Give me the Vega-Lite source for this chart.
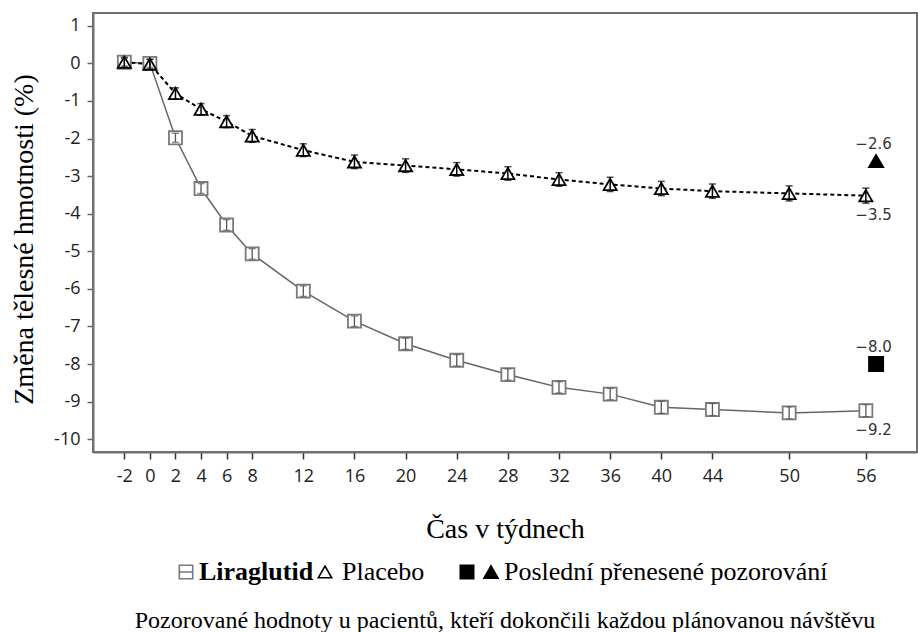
{
  "$schema": "https://vega.github.io/schema/vega-lite/v6.json",
  "width": 824,
  "height": 439,
  "autosize": {"type": "none"},
  "padding": {"left": 93, "top": 13, "right": 1, "bottom": 180},
  "background": "white",
  "config": {
    "view": {"stroke": "#707070", "strokeWidth": 2},
    "legend": {
      "labelFont": "Liberation Serif, Times New Roman, serif",
      "labelFontSize": 26,
      "labelColor": "black",
      "labelLimit": 0,
      "symbolSize": 180,
      "symbolStrokeWidth": 1.6,
      "orient": "none",
      "direction": "horizontal",
      "title": null
    }
  },
  "title": {
    "text": "Pozorované hodnoty u pacientů, kteří dokončili každou plánovanou návštěvu",
    "orient": "bottom",
    "anchor": "middle",
    "font": "Liberation Serif, Times New Roman, serif",
    "fontSize": 24,
    "fontWeight": "normal",
    "color": "black",
    "offset": 24
  },
  "datasets": {
    "obs": [
      {"week": -2, "value": 0.03, "lo": -0.07, "hi": 0.13, "series": "Liraglutid"},
      {"week": 0, "value": 0.0, "lo": -0.1, "hi": 0.1, "series": "Liraglutid"},
      {"week": 2, "value": -1.98, "lo": -2.1, "hi": -1.86, "series": "Liraglutid"},
      {"week": 4, "value": -3.33, "lo": -3.46, "hi": -3.2, "series": "Liraglutid"},
      {"week": 6, "value": -4.3, "lo": -4.44, "hi": -4.16, "series": "Liraglutid"},
      {"week": 8, "value": -5.07, "lo": -5.21, "hi": -4.93, "series": "Liraglutid"},
      {"week": 12, "value": -6.06, "lo": -6.2, "hi": -5.92, "series": "Liraglutid"},
      {"week": 16, "value": -6.86, "lo": -7.0, "hi": -6.72, "series": "Liraglutid"},
      {"week": 20, "value": -7.46, "lo": -7.61, "hi": -7.31, "series": "Liraglutid"},
      {"week": 24, "value": -7.9, "lo": -8.05, "hi": -7.75, "series": "Liraglutid"},
      {"week": 28, "value": -8.28, "lo": -8.43, "hi": -8.13, "series": "Liraglutid"},
      {"week": 32, "value": -8.62, "lo": -8.77, "hi": -8.47, "series": "Liraglutid"},
      {"week": 36, "value": -8.8, "lo": -8.95, "hi": -8.65, "series": "Liraglutid"},
      {"week": 40, "value": -9.15, "lo": -9.31, "hi": -8.99, "series": "Liraglutid"},
      {"week": 44, "value": -9.21, "lo": -9.37, "hi": -9.05, "series": "Liraglutid"},
      {"week": 50, "value": -9.3, "lo": -9.46, "hi": -9.14, "series": "Liraglutid"},
      {"week": 56, "value": -9.24, "lo": -9.4, "hi": -9.08, "series": "Liraglutid"},
      {"week": -2, "value": 0.03, "lo": -0.1, "hi": 0.16, "series": "Placebo"},
      {"week": 0, "value": -0.02, "lo": -0.15, "hi": 0.11, "series": "Placebo"},
      {"week": 2, "value": -0.8, "lo": -0.95, "hi": -0.65, "series": "Placebo"},
      {"week": 4, "value": -1.22, "lo": -1.37, "hi": -1.07, "series": "Placebo"},
      {"week": 6, "value": -1.55, "lo": -1.71, "hi": -1.39, "series": "Placebo"},
      {"week": 8, "value": -1.93, "lo": -2.1, "hi": -1.76, "series": "Placebo"},
      {"week": 12, "value": -2.31, "lo": -2.48, "hi": -2.14, "series": "Placebo"},
      {"week": 16, "value": -2.62, "lo": -2.8, "hi": -2.44, "series": "Placebo"},
      {"week": 20, "value": -2.72, "lo": -2.9, "hi": -2.54, "series": "Placebo"},
      {"week": 24, "value": -2.82, "lo": -3.0, "hi": -2.64, "series": "Placebo"},
      {"week": 28, "value": -2.93, "lo": -3.11, "hi": -2.75, "series": "Placebo"},
      {"week": 32, "value": -3.09, "lo": -3.27, "hi": -2.91, "series": "Placebo"},
      {"week": 36, "value": -3.22, "lo": -3.41, "hi": -3.03, "series": "Placebo"},
      {"week": 40, "value": -3.33, "lo": -3.52, "hi": -3.14, "series": "Placebo"},
      {"week": 44, "value": -3.4, "lo": -3.59, "hi": -3.21, "series": "Placebo"},
      {"week": 50, "value": -3.46, "lo": -3.66, "hi": -3.26, "series": "Placebo"},
      {"week": 56, "value": -3.52, "lo": -3.72, "hi": -3.32, "series": "Placebo"},
      {"week": 56.8, "value": -8.0, "series": "LOCF Liraglutid"},
      {"week": 56.8, "value": -2.6, "series": "LOCF Placebo"}
    ],
    "labels": [
      {"week": 56.6, "value": -2.6, "label": "−2.6", "side": "above"},
      {"week": 56.6, "value": -3.52, "label": "−3.5", "side": "below"},
      {"week": 56.6, "value": -8.0, "label": "−8.0", "side": "above"},
      {"week": 56.6, "value": -9.24, "label": "−9.2", "side": "below"}
    ]
  },
  "encoding": {
    "x": {
      "field": "week",
      "type": "quantitative",
      "scale": {"domain": [-4.45, 60], "nice": false, "zero": false},
      "axis": {
        "values": [-2, 0, 2, 4, 6, 8, 12, 16, 20, 24, 28, 32, 36, 40, 44, 50, 56],
        "labelExpr": "'' + datum.value",
        "grid": false,
        "domainColor": "#707070",
        "domainWidth": 2,
        "tickColor": "#333333",
        "tickWidth": 1.5,
        "tickSize": 7,
        "labelPadding": 8,
        "labelFont": "Open Sans",
        "labelFontSize": 18,
        "labelColor": "#222222",
        "title": "Čas v týdnech",
        "titleFont": "Liberation Serif, Times New Roman, serif",
        "titleFontSize": 28,
        "titleFontWeight": "normal",
        "titleColor": "black",
        "titleBaseline": "alphabetic",
        "titleY": 85
      }
    },
    "y": {
      "field": "value",
      "type": "quantitative",
      "title": "Změna tělesné hmotnosti (%)",
      "scale": {"domain": [-10.34, 1.34], "nice": false, "zero": false},
      "axis": {
        "values": [-10, -9, -8, -7, -6, -5, -4, -3, -2, -1, 0, 1],
        "labelExpr": "'' + datum.value",
        "grid": false,
        "domainColor": "#707070",
        "domainWidth": 2,
        "tickColor": "#666666",
        "tickWidth": 1.5,
        "tickSize": 6,
        "labelPadding": 7,
        "labelFont": "Open Sans",
        "labelFontSize": 18,
        "labelColor": "#222222",
        "titleFont": "Liberation Serif, Times New Roman, serif",
        "titleFontSize": 28,
        "titleFontWeight": "normal",
        "titleColor": "black",
        "titleX": -69,
        "titleY": 226,
        "titleBaseline": "middle"
      }
    }
  },
  "layer": [
    {
      "data": {"name": "obs"},
      "transform": [{"filter": "datum.series === 'Liraglutid'"}],
      "mark": {"type": "line", "color": "#666666", "strokeWidth": 1.5},
      "encoding": {}
    },
    {
      "data": {"name": "obs"},
      "transform": [{"filter": "datum.series === 'Placebo'"}],
      "mark": {"type": "line", "color": "black", "strokeWidth": 2, "strokeDash": [4, 3]},
      "encoding": {}
    },
    {
      "data": {"name": "obs"},
      "mark": {"type": "point", "strokeWidth": 1.8, "opacity": 1, "fillOpacity": 1},
      "encoding": {
        "stroke": {
          "field": "series",
          "type": "nominal",
          "scale": {
            "domain": ["Liraglutid", "Placebo", "LOCF Liraglutid", "LOCF Placebo"],
            "range": ["#7a7a7a", "black", "black", "black"]
          },
          "legend": {
            "values": ["Liraglutid"],
            "legendX": 80,
            "legendY": 546,
            "labelFontWeight": "bold",
            "labelOffset": 0,
            "symbolType": "M-1,-1H1V1H-1ZM-1,0H1",
            "symbolFillColor": "white"
          }
        },
        "shape": {
          "field": "series",
          "type": "nominal",
          "scale": {
            "domain": ["Placebo", "Liraglutid", "LOCF Liraglutid", "LOCF Placebo"],
            "range": ["triangle-up", "square", "square", "triangle-up"]
          },
          "legend": {
            "values": ["Placebo"],
            "legendX": 219,
            "legendY": 546,
            "labelFontWeight": "normal",
            "labelOffset": 4,
            "symbolStrokeColor": "black",
            "symbolFillColor": "white"
          }
        },
        "fill": {
          "field": "series",
          "type": "nominal",
          "scale": {
            "domain": ["LOCF Liraglutid", "LOCF Placebo", "Liraglutid", "Placebo"],
            "range": ["black", "black", "white", "white"]
          },
          "legend": {
            "values": ["LOCF Liraglutid"],
            "legendX": 361,
            "legendY": 546,
            "labelExpr": "''",
            "labelOffset": 0,
            "symbolType": "square",
            "symbolStrokeColor": "black"
          }
        },
        "size": {
          "field": "series",
          "type": "nominal",
          "scale": {
            "type": "ordinal",
            "domain": ["LOCF Placebo", "LOCF Liraglutid", "Placebo", "Liraglutid"],
            "range": [200, 200, 170, 170]
          },
          "legend": {
            "values": ["LOCF Placebo"],
            "legendX": 385,
            "legendY": 546,
            "labelExpr": "'Poslední přenesené pozorování'",
            "labelFontWeight": "normal",
            "labelOffset": 0,
            "symbolType": "triangle-up",
            "symbolFillColor": "black",
            "symbolStrokeColor": "black"
          }
        }
      }
    },
    {
      "data": {"name": "obs"},
      "transform": [{"filter": "datum.series === 'Liraglutid'"}],
      "mark": {"type": "errorbar", "ticks": {"size": 7}, "color": "#555555", "thickness": 1.3},
      "encoding": {
        "y": {"field": "lo", "type": "quantitative", "title": "Změna tělesné hmotnosti (%)"},
        "y2": {"field": "hi"}
      }
    },
    {
      "data": {"name": "obs"},
      "transform": [{"filter": "datum.series === 'Placebo'"}],
      "mark": {"type": "errorbar", "ticks": {"size": 7}, "color": "black", "thickness": 1.5},
      "encoding": {
        "y": {"field": "lo", "type": "quantitative", "title": "Změna tělesné hmotnosti (%)"},
        "y2": {"field": "hi"}
      }
    },
    {
      "data": {"name": "labels"},
      "transform": [{"filter": "datum.side === 'above'"}],
      "mark": {"type": "text", "font": "DejaVu Sans", "fontSize": 15, "color": "#333333", "dy": -17, "baseline": "middle", "align": "center"},
      "encoding": {"text": {"field": "label"}}
    },
    {
      "data": {"name": "labels"},
      "transform": [{"filter": "datum.side === 'below'"}],
      "mark": {"type": "text", "font": "DejaVu Sans", "fontSize": 15, "color": "#333333", "dy": 19, "baseline": "middle", "align": "center"},
      "encoding": {"text": {"field": "label"}}
    }
  ]
}
